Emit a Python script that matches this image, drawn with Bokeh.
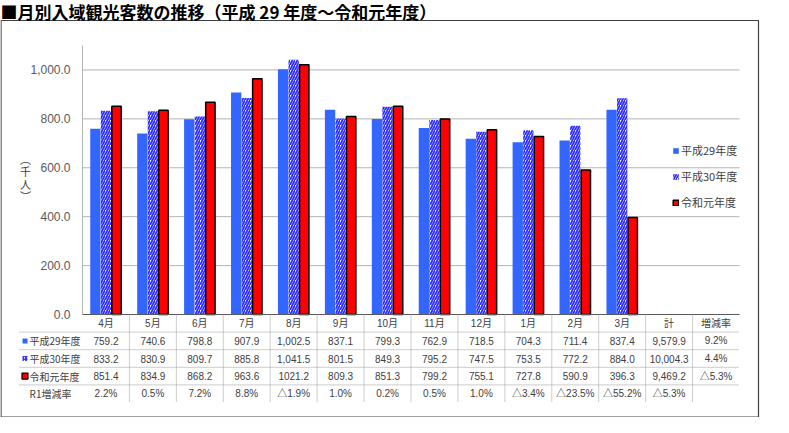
from bokeh.plotting import figure
from bokeh.models import (ColumnDataSource, Range1d, Legend, LegendItem)
from bokeh.transform import dodge
from bokeh.core.properties import value
from bokeh.embed import file_html
from bokeh.resources import INLINE

# ---------------- data ----------------
months = ["4月", "5月", "6月", "7月", "8月", "9月", "10月", "11月", "12月", "1月", "2月", "3月"]
columns = months + ["計", "増減率"]
series_names = ["平成29年度", "平成30年度", "令和元年度"]
h29 = [759.2, 740.6, 798.8, 907.9, 1002.5, 837.1, 799.3, 762.9, 718.5, 704.3, 711.4, 837.4]
h30 = [833.2, 830.9, 809.7, 885.8, 1041.5, 801.5, 849.3, 795.2, 747.5, 753.5, 772.2, 884.0]
r1 = [851.4, 834.9, 868.2, 963.6, 1021.2, 809.3, 851.3, 799.2, 755.1, 727.8, 590.9, 396.3]
h29_text = ["759.2", "740.6", "798.8", "907.9", "1,002.5", "837.1", "799.3", "762.9", "718.5",
            "704.3", "711.4", "837.4", "9,579.9", "9.2%"]
h30_text = ["833.2", "830.9", "809.7", "885.8", "1,041.5", "801.5", "849.3", "795.2", "747.5",
            "753.5", "772.2", "884.0", "10,004.3", "4.4%"]
r1_text = ["851.4", "834.9", "868.2", "963.6", "1021.2", "809.3", "851.3", "799.2", "755.1",
           "727.8", "590.9", "396.3", "9,469.2", "△5.3%"]
rate_text = ["2.2%", "0.5%", "7.2%", "8.8%", "△1.9%", "1.0%", "0.2%", "0.5%", "1.0%",
             "△3.4%", "△23.5%", "△55.2%", "△5.3%", ""]
row_names = series_names + ["R1増減率"]
y_ticks = [0, 200, 400, 600, 800, 1000]
y_max = 1100
title_text = "■月別入域観光客数の推移（平成 29 年度～令和元年度）"
y_label_chars = ["︵", "千", "人", "︶"]

# ---------------- layout / style ----------------
W, H = 773, 417
FL, FR, FT, FB = 82, 739, 45, 314          # chart plot area in canvas pixels
JP = "Noto Sans CJK JP"
NUM = "Liberation Sans, Noto Sans CJK JP"
TXT = "#404040"
C29, C30, CR1 = "#3366FF", "#2b2bff", "#FF0000"
NC = len(columns)
cw = (FR - FL) / NC                 # px per category
ppu = y_max / (FB - FT)             # value units per px

p = figure(width=W, height=H, output_backend="svg", toolbar_location=None,
           x_axis_location=None, y_axis_location=None, min_border=0,
           x_range=Range1d(-FL / cw, (W - FL) / cw),
           y_range=Range1d(-(H - FB) * ppu, y_max + FT * ppu))
p.outline_line_color = None
p.grid.visible = False
p.extra_x_ranges = {"px": Range1d(0, W)}
p.extra_y_ranges = {"px": Range1d(H, 0)}
PX = dict(x_range_name="px", y_range_name="px")
PY = dict(y_range_name="px")


def txt(size, font=NUM, align="center", color=TXT, style="normal"):
    return dict(text_font=value(font), text_font_size=value(size), text_align=align,
                text_baseline="middle", text_color=color, text_font_style=style)


# ---------------- axes & grid ----------------
grid_vals = [t for t in y_ticks if t > 0]
p.segment(x0=[0] * len(grid_vals), x1=[NC] * len(grid_vals), y0=grid_vals, y1=grid_vals,
          line_color="#b3b3b3", line_width=1)
p.segment(x0=[0], x1=[0], y0=[0], y1=[y_max], line_color="#b3b3b3", line_width=1)
p.text(x=[FL - 12] * len(y_ticks), y=y_ticks, text=[f"{t:,.1f}" for t in y_ticks],
       x_range_name="px", **txt("12px", align="right", color="#595959"))

# ---------------- bars ----------------
src = ColumnDataSource(dict(xc=[i + 0.5 for i in range(len(months))], h29=h29, h30=h30, r1=r1))
bw = 0.22
b1 = p.vbar(x=dodge("xc", -0.225), top="h29", width=bw, source=src,
            fill_color=C29, line_color=None)
b2 = p.vbar(x=dodge("xc", 0.0), top="h30", width=bw, source=src,
            fill_color="white", line_color=None, hatch_pattern="/", hatch_color=C30,
            hatch_scale=5, hatch_weight=1.8)
b3 = p.vbar(x=dodge("xc", 0.225), top="r1", width=bw - 0.02, source=src,
            fill_color=CR1, line_color="black", line_width=1.5)
p.segment(x0=[0], x1=[NC], y0=[0], y1=[0], line_color="#595959", line_width=1)

legend = Legend(items=[LegendItem(label=n, renderers=[r]) for n, r in zip(series_names, [b1, b2, b3])],
                location=(672, 207), glyph_width=7, glyph_height=7, spacing=10, padding=0, margin=0,
                label_standoff=2, label_text_font=JP, label_text_font_size="11px",
                label_text_color=TXT, border_line_color=None, background_fill_alpha=0)
p.add_layout(legend)

# ---------------- table ----------------
col_x = [i + 0.5 for i in range(NC)]
row_h = 17.6
p.text(x=col_x, y=[FB + 0.5 * row_h] * NC, text=columns, **PY, **txt("10px"))
row_y = [FB + (i + 1.5) * row_h for i in range(4)]
for texts, y in zip([h29_text, h30_text, r1_text, rate_text], row_y):
    p.text(x=col_x, y=[y] * NC, text=texts, **PY, **txt("10px"))

p.text(x=[29] * 3, y=row_y[:3], text=series_names, **PX, **txt("10px", font=JP, align="left"))
p.text(x=[50], y=[row_y[3]], text=[row_names[3]], **PX, **txt("10px", font=JP))

# row markers
p.quad(left=[22], right=[27], top=[row_y[0] - 2.5], bottom=[row_y[0] + 2.5], **PX,
       fill_color=C29, line_color=None)
p.quad(left=[22], right=[27], top=[row_y[1] - 2.5], bottom=[row_y[1] + 2.5], **PX,
       fill_color="white", line_color=None, hatch_pattern="/", hatch_color=C30,
       hatch_scale=3, hatch_weight=1.3)
p.quad(left=[21.5], right=[27.5], top=[row_y[2] - 3], bottom=[row_y[2] + 3], **PX,
       fill_color=CR1, line_color="black", line_width=1.2)

# dotted table lines
vx = list(range(1, NC))
p.segment(x0=vx, x1=vx, y0=[FB] * len(vx), y1=[FB + 5 * row_h] * len(vx), **PY,
          line_color="#9a9a9a", line_dash="1 1", line_width=1)
hy = [FB + (i + 1) * row_h for i in range(4)]
p.segment(x0=[19] * 4, x1=[FR] * 4, y0=hy, y1=hy, **PX,
          line_color="#9a9a9a", line_dash="1 1", line_width=1)

# y axis label (vertical writing)
p.text(x=[25] * 4, y=[158 + i * 12.5 for i in range(4)], text=y_label_chars, **PX,
       **txt("11px", font=JP))

# outer frame and title
p.quad(left=[0.5], right=[758], top=[20], bottom=[416.5], **PX,
       fill_color=None, line_color="#404040", line_width=1.2)
p.text(x=[0], y=[10.5], text=[title_text], **PX,
       **txt("17px", font=JP, align="left", color="black", style="bold"))

open("out.html", "w").write(file_html(p, INLINE))
